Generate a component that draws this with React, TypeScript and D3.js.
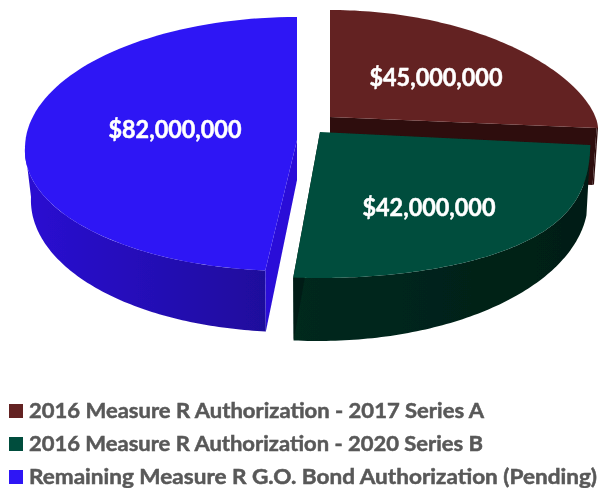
import React from "react";
import * as d3 from "d3";

const categories = [
  "2016 Measure R Authorization - 2017 Series A",
  "2016 Measure R Authorization - 2020 Series B",
  "Remaining Measure R G.O. Bond Authorization (Pending)",
];
const values = [45000000, 42000000, 82000000];
const topColors = ["#642323", "#014d3c", "#2d14f5"];
const wallFrom = ["#2e0a0a", "#03291f", "#2a10d2"];
const wallTo = ["#2e0a0a", "#021e15", "#1f0a9c"];
const cutColors = ["#2e0a0a", "#021e15", "#2a10d8"];
const legendWidths = [455, 454, 568];

// Per-slice projection of the tilted disc onto the page.
const rims = [
  { cx: 330, rx: 268, cy: 128, ryBack: 118, powBack: 1.2, ryFront: 0, powFront: 1, f0: 0, skew: 0, apexY: 117, lower: { cy: 184, rx: 264, ry: 10 }, apexDrop: 58 },
  { cx: 320, rx: 272, cy: 145, ryBack: 0, powBack: 1, ryFront: 133, powFront: 0.65, f0: 0.103, skew: -1.5, apexY: 132, lower: { cy: 201, rx: 268, ry: 140 }, apexDrop: 60 },
  { cx: 297, rx: 272, cy: 148, ryBack: 131, powBack: 1, ryFront: 123, powFront: 1, f0: 0, skew: -6.5, apexY: 140, lower: { cy: 197, rx: 266, ry: 135 }, apexDrop: 40 },
];
const labelPos = [
  [436, 76],
  [429, 206],
  [175, 128],
];

const pieGen = d3.pie<number>().sort(null).startAngle(0).endAngle(2 * Math.PI);
const arcs = pieGen(values);
const line = d3.line();
const money = d3.format("$,.0f");

function rimPoint(i: number, a: number): [number, number] {
  const r = rims[i];
  const c = Math.cos(a);
  const x = r.cx + r.rx * Math.sin(a);
  if (c >= 0) return [x, r.cy - r.ryBack * Math.pow(c, r.powBack)];
  const u = Math.max(0, (-c - r.f0) / (1 - r.f0));
  return [x + r.skew * -c, r.cy + r.ryFront * Math.pow(u, r.powFront)];
}
function lowerPoint(i: number, a: number): [number, number] {
  const r = rims[i];
  const c = Math.cos(a);
  return [r.cx + r.lower.rx * Math.sin(a) + (c < 0 ? r.skew * -c : 0), r.lower.cy - r.lower.ry * c];
}
function sweep(a0: number, a1: number, n = 90) {
  return d3.range(n + 1).map((k) => a0 + ((a1 - a0) * k) / n);
}

function topPath(i: number) {
  const { startAngle, endAngle } = arcs[i];
  const r = rims[i];
  const pts = sweep(startAngle, endAngle).map((a) => rimPoint(i, a));
  return line([[r.cx, r.apexY], ...pts]) + "Z";
}
function wallPath(i: number) {
  const { startAngle, endAngle } = arcs[i];
  // only the part of the rim facing the viewer
  const a0 = Math.max(startAngle, Math.PI / 2);
  const a1 = Math.min(endAngle, (3 * Math.PI) / 2);
  const s = sweep(a0, a1);
  return line([...s.map((a) => rimPoint(i, a)), ...s.slice().reverse().map((a) => lowerPoint(i, a))]) + "Z";
}
function cutPath(i: number) {
  const { startAngle, endAngle } = arcs[i];
  const r = rims[i];
  const a = i === 2 ? startAngle : endAngle;
  const p = rimPoint(i, a);
  const q = lowerPoint(i, a);
  return line([[r.cx, r.apexY], p, q, [r.cx, r.apexY + r.apexDrop]]) + "Z";
}

const legendY = d3.scalePoint<string>().domain(categories).range([411, 477]);
const sliceOrder = [0, 2, 1];

export default function App() {
  return (
    <svg
      width={598}
      height={488}
      viewBox="0 0 598 488"
      style={{ position: "absolute", left: 0, top: 0, background: "#fff" }}
    >
      <defs>
        {categories.map((_, i) => (
          <linearGradient key={i} id={`wall${i}`} x1="0" x2="1" y1="0" y2="0">
            <stop offset="0%" stopColor={wallFrom[i]} />
            <stop offset="100%" stopColor={wallTo[i]} />
          </linearGradient>
        ))}
        <filter id="soft" x="-2%" y="-2%" width="104%" height="104%">
          <feGaussianBlur stdDeviation="0.45" />
        </filter>
      </defs>
      <g filter="url(#soft)">
        {sliceOrder.map((i) => (
          <g key={i}>
            <path d={wallPath(i)} fill={`url(#wall${i})`} />
            <path d={cutPath(i)} fill={cutColors[i]} />
            <path d={topPath(i)} fill={topColors[i]} />
            <text
              x={labelPos[i][0]}
              y={labelPos[i][1]}
              textAnchor="middle"
              dominantBaseline="central"
              fontFamily="Lato, sans-serif"
              fontWeight={700}
              fontSize={24}
              fill="#fff"
              stroke="#fff"
              strokeWidth={0.5}
              textLength={133}
              lengthAdjust="spacingAndGlyphs"
            >
              {money(values[i])}
            </text>
          </g>
        ))}
        {categories.map((c, i) => (
          <g key={c}>
            <rect x={9} y={(legendY(c) as number) - 7} width={14} height={14} fill={topColors[i]} />
            <text
              x={29}
              y={(legendY(c) as number) - 1.5}
              dominantBaseline="central"
              fontFamily="Lato, sans-serif"
              fontWeight={700}
              fontSize={21}
              fill="#595959"
              stroke="#595959"
              strokeWidth={0.5}
              textLength={legendWidths[i]}
              lengthAdjust="spacingAndGlyphs"
            >
              {c}
            </text>
          </g>
        ))}
      </g>
    </svg>
  );
}
